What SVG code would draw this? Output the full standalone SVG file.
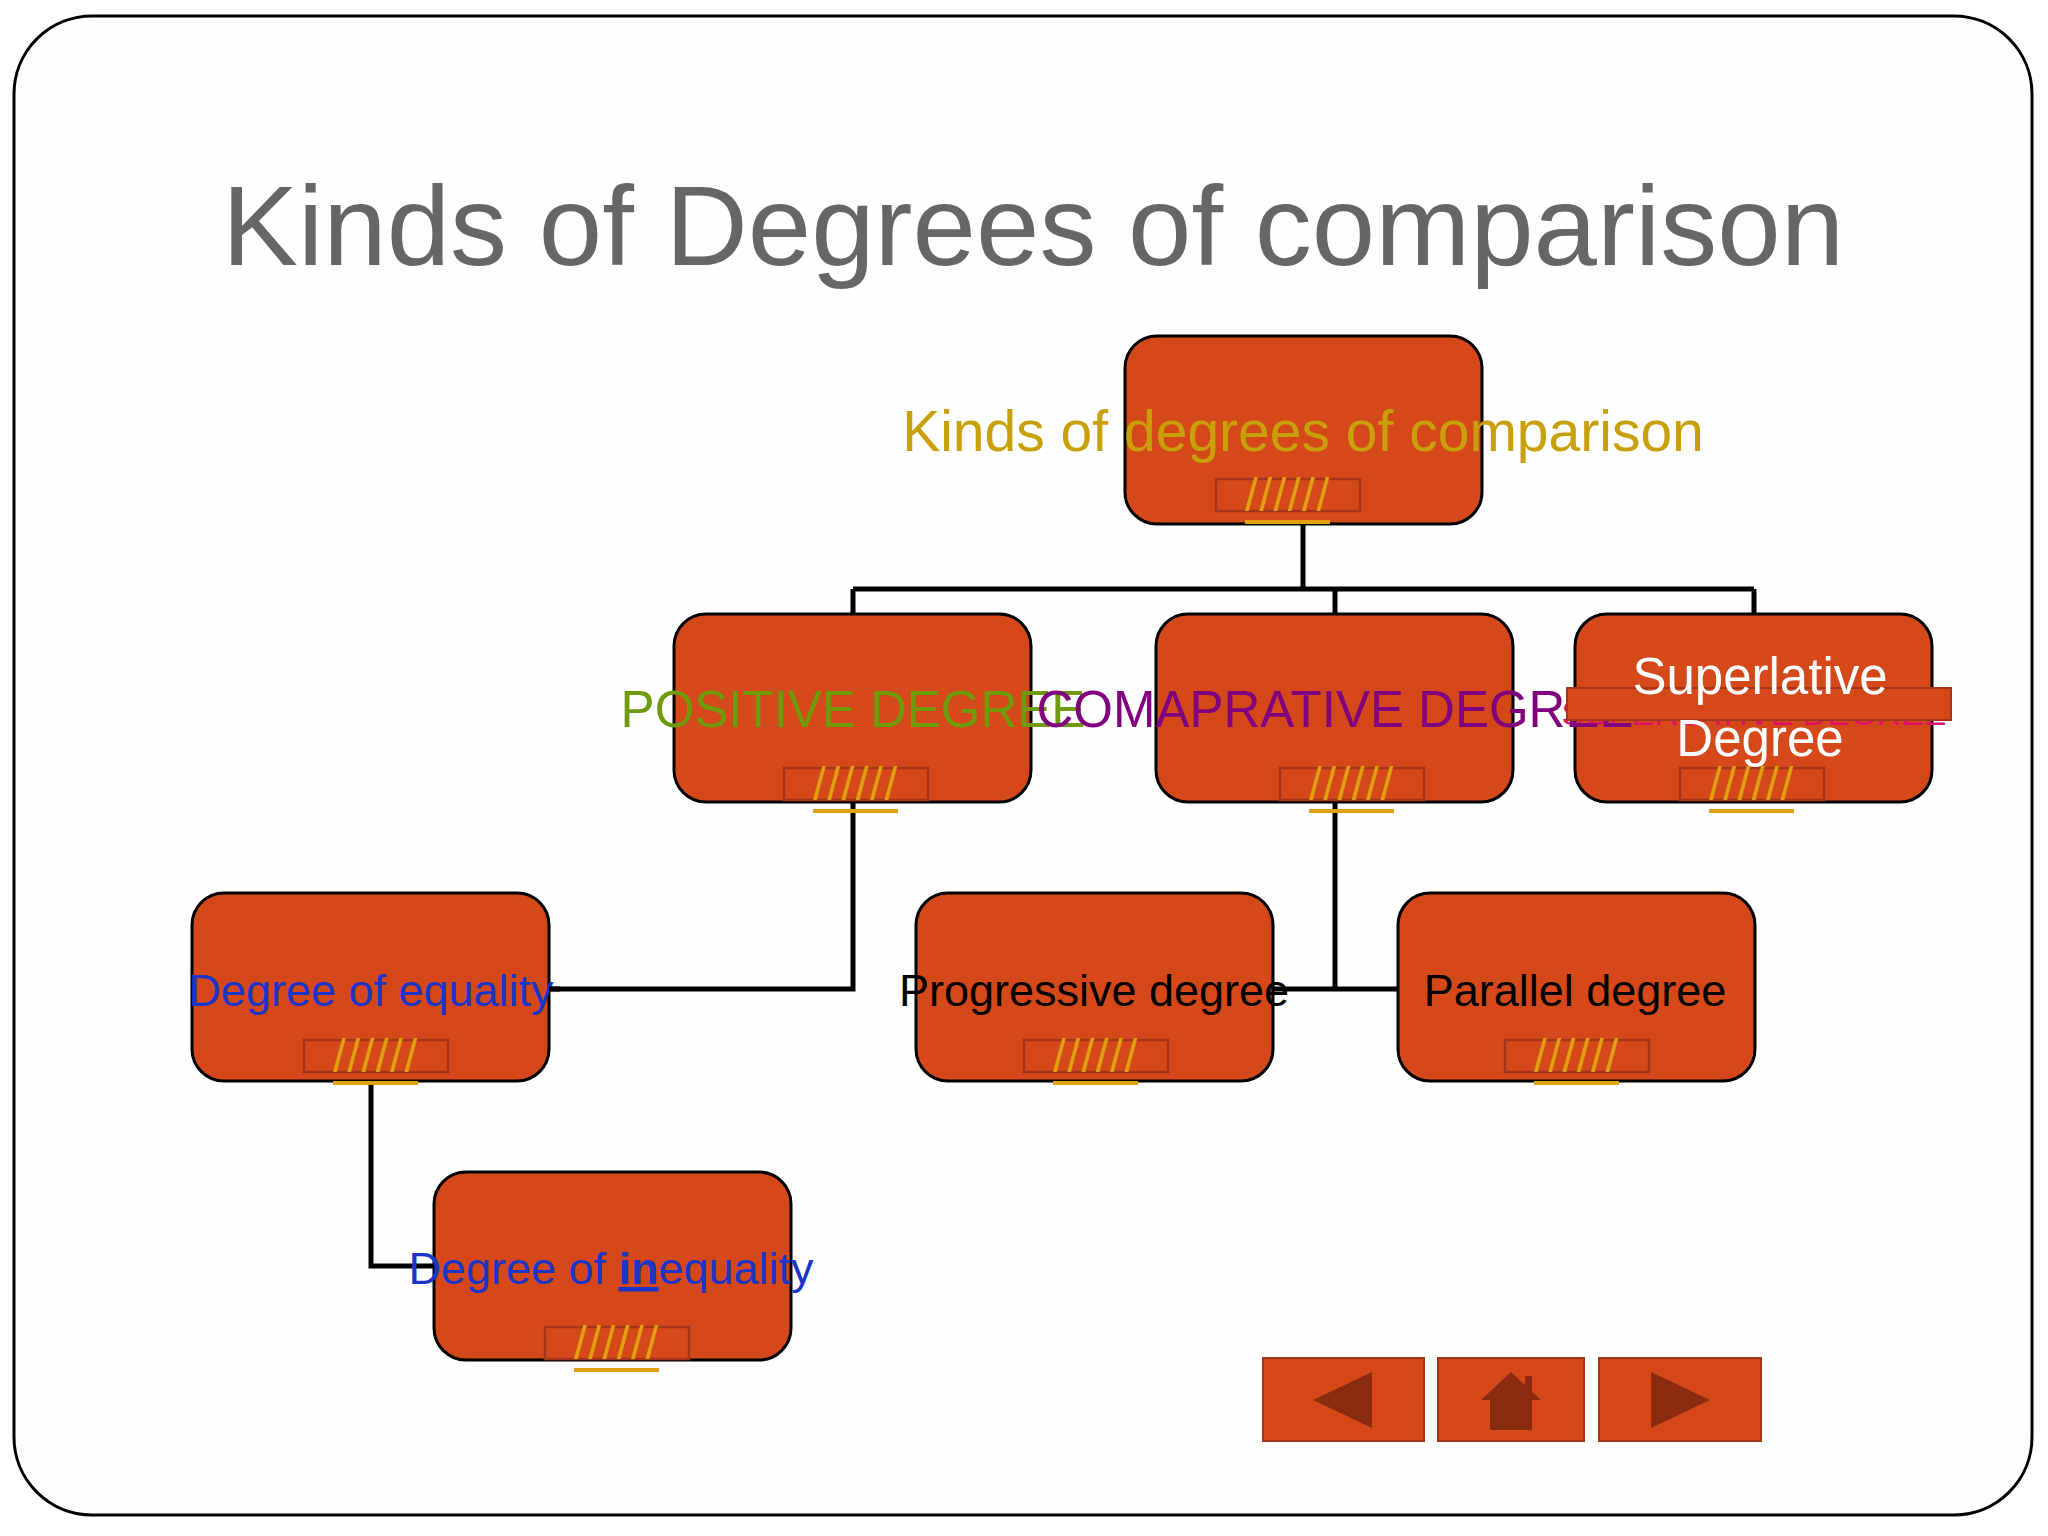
<svg xmlns="http://www.w3.org/2000/svg" width="2048" height="1536" viewBox="0 0 2048 1536">
<style>
.box{fill:#D4481A;stroke:#000;stroke-width:3}
.ph{fill:none;stroke:#A3361A;stroke-width:2.5}
.sl{font-family:"Liberation Sans",sans-serif;font-size:46px;fill:#E0A010}
.ul{stroke:#E0A010;stroke-width:4}
.t{font-family:"Liberation Sans",sans-serif;font-size:45px;text-anchor:middle}
.t2{font-size:51px}
.c{fill:none;stroke:#000;stroke-width:5}
.nav{fill:#D4481A;stroke:#A3361A;stroke-width:2}
.ic{fill:#8A2A0E}
</style>
<rect x="0" y="0" width="2048" height="1536" fill="#fff"/>
<rect x="14" y="16" width="2018" height="1499" rx="78" fill="#FEFEFE" stroke="#000" stroke-width="3"/>
<text x="1033" y="265" font-family="Liberation Sans,sans-serif" font-size="114" fill="#666" text-anchor="middle">Kinds of Degrees of comparison</text>
<g id="connectors">
<path class="c" d="M1303 524V589M853 589H1754M853 589V614M1335 589V614M1754 589V614"/>
<path class="c" d="M853 802V989H549"/>
<path class="c" d="M1335 802V989M1272 989H1398"/>
<path class="c" d="M371 1081V1266H434"/>
</g>
<defs>
<g id="pl">
<rect class="ph" x="0" y="0" width="144" height="32"/>
<text class="sl" x="29" y="32" letter-spacing="1.5">//////</text>
<line class="ul" x1="29" y1="43" x2="114" y2="43"/>
</g>
</defs>
<g id="top"><rect class="box" x="1125" y="336" width="357" height="188" rx="32"/><use href="#pl" x="1216" y="479"/>
<text class="t" x="1303" y="451" fill="#C9A00A" style="font-size:57px">Kinds of degrees of comparison</text></g>
<g id="positive"><rect class="box" x="674" y="614" width="357" height="188" rx="32"/><use href="#pl" x="784" y="768"/></g>
<g id="comparative"><rect class="box" x="1156" y="614" width="357" height="188" rx="32"/><use href="#pl" x="1280" y="768"/></g>
<g id="superlative"><rect class="box" x="1575" y="614" width="357" height="188" rx="32"/><use href="#pl" x="1680" y="768"/></g>
<text class="t t2" x="853" y="727" fill="#6E9A0C">POSITIVE DEGREE</text>
<text class="t" x="1754" y="725" fill="#E0106A" style="font-size:34px">SUPERLATIVE DEGREE</text>
<text class="t t2" x="1335" y="727" fill="#800080">COMAPRATIVE DEGREE</text>
<rect x="1567" y="688" width="384" height="32" fill="#D4481A" stroke="#A3361A" stroke-width="2"/>
<text class="t t2" x="1760" y="694" fill="#fff">Superlative</text>
<text class="t t2" x="1760" y="756" fill="#fff">Degree</text>
<g id="equality"><rect class="box" x="192" y="893" width="357" height="188" rx="32"/><use href="#pl" x="304" y="1040"/>
<text class="t" x="371" y="1006" fill="#1A35C8">Degree of equality</text></g>
<g id="progressive"><rect class="box" x="916" y="893" width="357" height="188" rx="32"/><use href="#pl" x="1024" y="1040"/>
<text class="t" x="1094" y="1006" fill="#000">Progressive degree</text></g>
<g id="parallel"><rect class="box" x="1398" y="893" width="357" height="188" rx="32"/><use href="#pl" x="1505" y="1040"/>
<text class="t" x="1575" y="1006" fill="#000">Parallel degree</text></g>
<g id="inequality"><rect class="box" x="434" y="1172" width="357" height="188" rx="32"/><use href="#pl" x="545" y="1327"/>
<text class="t" x="611" y="1284" fill="#1A35C8">Degree of <tspan font-weight="bold" text-decoration="underline">in</tspan>equality</text></g>
<path class="c" d="M549 989H560"/>
<g id="nav">
<rect class="nav" x="1263" y="1358" width="161" height="83"/>
<polygon class="ic" points="1313,1400 1372,1372 1372,1428"/>
<rect class="nav" x="1438" y="1358" width="146" height="83"/>
<polygon class="ic" points="1511,1372 1481,1400 1541,1400"/>
<rect class="ic" x="1490" y="1398" width="42" height="32"/>
<rect class="ic" x="1525" y="1376" width="7" height="16"/>
<rect class="nav" x="1599" y="1358" width="162" height="83"/>
<polygon class="ic" points="1710,1400 1651,1372 1651,1428"/>
</g>
</svg>
